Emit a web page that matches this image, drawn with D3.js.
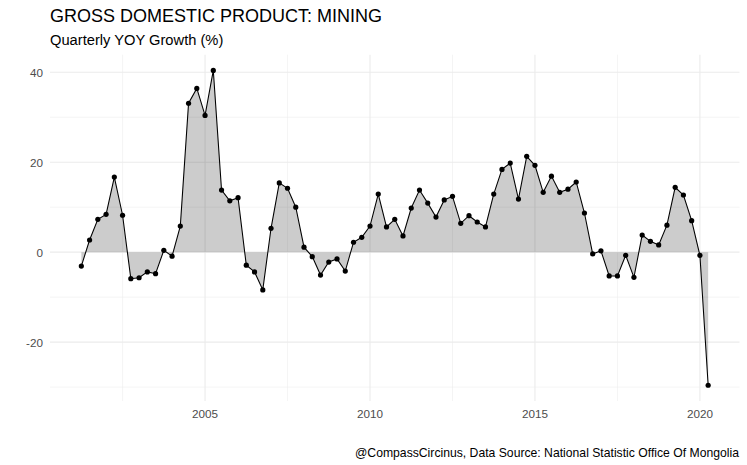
<!DOCTYPE html>
<html>
<head>
<meta charset="utf-8">
<style>
  body { margin: 0; background: #fff; }
  text { font-family: "Liberation Sans", Arial, sans-serif; }
</style>
</head>
<body>
<div id="chart"></div>
<script src="https://cdn.jsdelivr.net/npm/d3@7"></script>
<script>
// quarterly YOY growth of mining GDP, 2001 Q2 .. 2020 Q2
const firstYear = 2001;
const firstQuarter = 2;
const growth = [
  -3.1, 2.7, 7.3, 8.4, 16.7, 8.2, -5.9, -5.7, -4.4, -4.8,
  0.4, -0.9, 5.8, 33.1, 36.4, 30.4, 40.4, 13.8, 11.4, 12.1,
  -2.9, -4.4, -8.4, 5.3, 15.4, 14.2, 10.0, 1.1, -1.0, -5.1,
  -2.2, -1.5, -4.2, 2.2, 3.3, 5.8, 12.9, 5.6, 7.3, 3.6,
  9.8, 13.8, 10.9, 7.8, 11.6, 12.4, 6.4, 8.1, 6.7, 5.6,
  12.9, 18.4, 19.8, 11.8, 21.3, 19.3, 13.3, 16.9, 13.3, 14.0,
  15.6, 8.7, -0.4, 0.3, -5.3, -5.3, -0.7, -5.6, 3.8, 2.4,
  1.6, 6.0, 14.4, 12.7, 7.0, -0.7, -29.6
];
const xMajor = [2005, 2010, 2015, 2020];
const xMinor = [2002.5, 2007.5, 2012.5, 2017.5];
const yMajor = [-20, 0, 20, 40];
const yMinor = [-30, -10, 10, 30];

const width = 747, height = 465;
const panel = {left: 50, right: 739.5, top: 54.7, bottom: 401};

// quarter start dates as fractional years
const data = growth.map((v, i) => {
  const q = firstQuarter - 1 + i;
  return {t: firstYear + Math.floor(q / 4) + (q % 4) / 4, v: v};
});

function expand(ext, f) {
  const d = (ext[1] - ext[0]) * f;
  return [ext[0] - d, ext[1] + d];
}

const x = d3.scaleLinear()
  .domain(expand(d3.extent(data, d => d.t), 0.05))
  .range([panel.left, panel.right]);
const y = d3.scaleLinear()
  .domain(expand(d3.extent(data, d => d.v), 0.05))
  .range([panel.bottom, panel.top]);

const svg = d3.select("#chart").append("svg")
  .attr("width", width)
  .attr("height", height);

const grid = svg.append("g").attr("stroke", "#ebebeb").attr("fill", "none");
grid.selectAll(".ymin").data(yMinor).join("line")
  .attr("x1", panel.left).attr("x2", panel.right)
  .attr("y1", d => y(d)).attr("y2", d => y(d))
  .attr("stroke-width", 0.55);
grid.selectAll(".xmin").data(xMinor).join("line")
  .attr("y1", panel.top).attr("y2", panel.bottom)
  .attr("x1", d => x(d)).attr("x2", d => x(d))
  .attr("stroke-width", 0.55);
grid.selectAll(".ymaj").data(yMajor).join("line")
  .attr("x1", panel.left).attr("x2", panel.right)
  .attr("y1", d => y(d)).attr("y2", d => y(d))
  .attr("stroke-width", 1.1);
grid.selectAll(".xmaj").data(xMajor).join("line")
  .attr("y1", panel.top).attr("y2", panel.bottom)
  .attr("x1", d => x(d)).attr("x2", d => x(d))
  .attr("stroke-width", 1.1);

const area = d3.area()
  .x(d => x(d.t))
  .y0(y(0))
  .y1(d => y(d.v));
svg.append("path")
  .datum(data)
  .attr("d", area)
  .attr("fill", "#000")
  .attr("fill-opacity", 0.2);

const line = d3.line()
  .x(d => x(d.t))
  .y(d => y(d.v));
svg.append("path")
  .datum(data)
  .attr("d", line)
  .attr("fill", "none")
  .attr("stroke", "#000")
  .attr("stroke-width", 1.07);

svg.append("g").selectAll("circle").data(data).join("circle")
  .attr("cx", d => x(d.t))
  .attr("cy", d => y(d.v))
  .attr("r", 2.6)
  .attr("fill", "#000");

// axis labels
svg.append("g").selectAll("text").data(yMajor).join("text")
  .attr("x", 43)
  .attr("y", d => y(d))
  .attr("dy", "0.38em")
  .attr("text-anchor", "end")
  .attr("font-size", 11.7)
  .attr("fill", "#4d4d4d")
  .text(d => d);
svg.append("g").selectAll("text").data(xMajor).join("text")
  .attr("x", d => x(d))
  .attr("y", 418)
  .attr("text-anchor", "middle")
  .attr("font-size", 11.7)
  .attr("fill", "#4d4d4d")
  .text(d => d);

svg.append("text")
  .attr("x", 50).attr("y", 22)
  .attr("font-size", 18)
  .attr("fill", "#000")
  .text("GROSS DOMESTIC PRODUCT: MINING");
svg.append("text")
  .attr("x", 50).attr("y", 45)
  .attr("font-size", 14.7)
  .attr("fill", "#000")
  .text("Quarterly YOY Growth (%)");
svg.append("text")
  .attr("x", 739).attr("y", 457)
  .attr("text-anchor", "end")
  .attr("font-size", 12.2)
  .attr("fill", "#000")
  .text("@CompassCircinus, Data Source: National Statistic Office Of Mongolia");
</script>
</body>
</html>
